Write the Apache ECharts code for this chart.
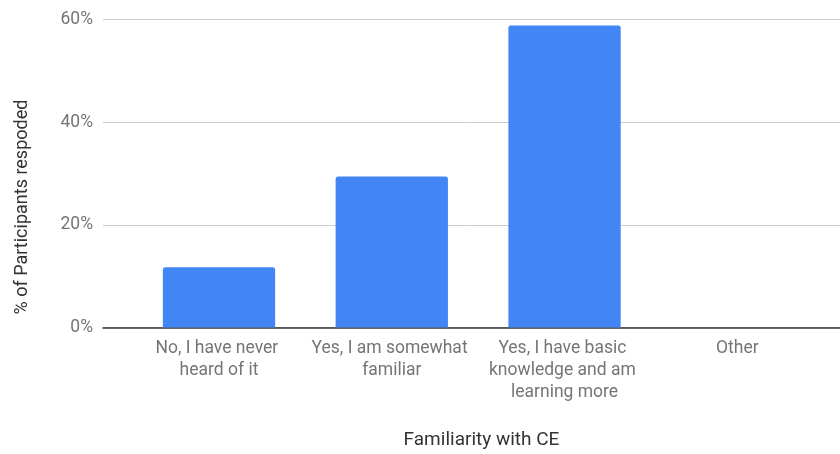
<!DOCTYPE html>
<html>
<head>
<meta charset="utf-8">
<script src="https://cdn.jsdelivr.net/npm/echarts@6/dist/echarts.min.js"></script>
<style>html,body{margin:0;padding:0;background:#fff}#c{width:840px;height:454px}</style>
</head>
<body>
<div id="c"></div>
<script>
const categories = ["No, I have never heard of it", "Yes, I am somewhat familiar", "Yes, I have basic knowledge and am learning more", "Other"];
const values = [11.76, 29.41, 58.82, 0];
const yTicks = [0, 20, 40, 60];
const xTitle = "Familiarity with CE";
const yTitle = "% of Participants respoded";

const chart = echarts.init(document.getElementById('c'));
const font = 'Roboto';
chart.setOption({
  animation: false,
  textStyle: {fontFamily: font},
  grid: [
    {left: 103, right: 0, top: 19.5, bottom: 126.5},
    {left: 132.6, right: 16.3, top: 19.5, bottom: 126.5}
  ],
  xAxis: [
    {gridIndex: 0, type: 'value', min: 0, max: 1, axisLabel: {show: false}, axisTick: {show: false}, splitLine: {show: false},
     axisLine: {show: true, onZero: false, lineStyle: {color: '#333', width: 1.5}}},
    {gridIndex: 1, type: 'category', data: categories,
     axisLine: {show: false}, axisTick: {show: false},
     axisLabel: {interval: 0, color: '#757575', fontSize: 17.5, lineHeight: 22, margin: 10, width: 168, overflow: 'break', fontFamily: font}}
  ],
  yAxis: [
    {gridIndex: 0, type: 'value', min: yTicks[0], max: yTicks[yTicks.length-1], interval: 20,
     axisLine: {show: false}, axisTick: {show: false},
     axisLabel: {formatter: '{value}%', color: '#757575', fontSize: 17.5, margin: 10, fontFamily: font},
     splitLine: {lineStyle: {color: '#cccccc', width: 1}}},
    {gridIndex: 1, type: 'value', min: yTicks[0], max: yTicks[yTicks.length-1], interval: 20, show: false}
  ],
  series: [{
    type: 'bar', xAxisIndex: 1, yAxisIndex: 1, data: values, barWidth: '65%',
    itemStyle: {color: '#4285F4', borderRadius: [2.5, 2.5, 0, 0]}
  }],
  graphic: [
    {type: 'text', x: 481.5, y: 440, style: {text: xTitle, fill: '#333', font: '19px Roboto', textAlign: 'center', textVerticalAlign: 'middle'}},
    {type: 'text', x: 22, y: 207, rotation: Math.PI/2, style: {text: yTitle, fill: '#333', font: '18px Roboto', textAlign: 'center', textVerticalAlign: 'middle'}}
  ]
});
</script>
</body>
</html>
